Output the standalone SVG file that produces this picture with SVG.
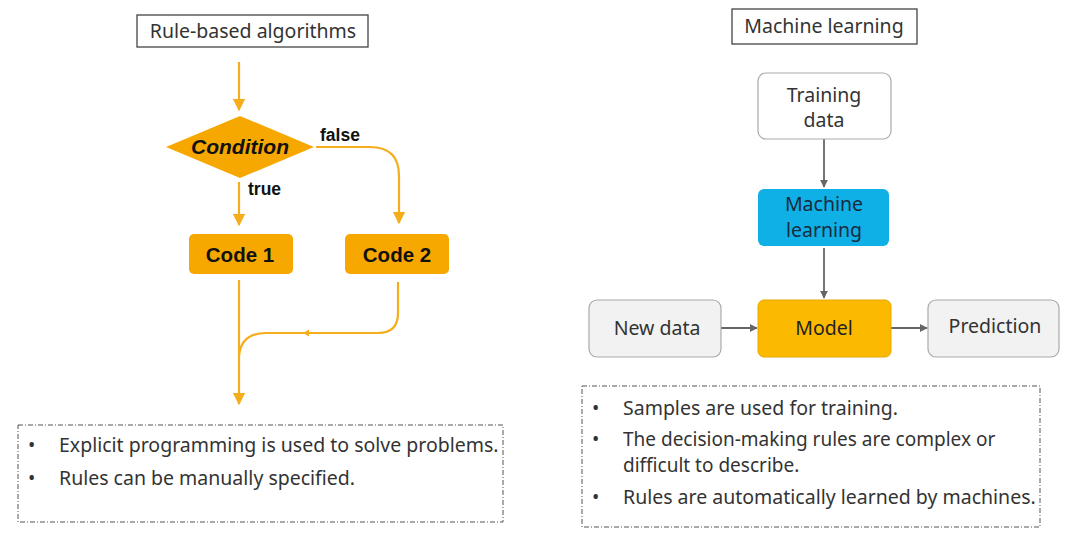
<svg xmlns="http://www.w3.org/2000/svg" width="1084" height="539" viewBox="0 0 1084 539">
<defs>
<style>
.t{font-family:"Noto Sans","Open Sans","Liberation Sans",sans-serif;fill:#333;font-size:19.5px;}
.b{font-family:"Liberation Sans",Arial,sans-serif;font-weight:bold;fill:#111;}
.title{fill:#fff;stroke:#444;stroke-width:1.3;}
.ol{fill:none;stroke:#f5ad1b;stroke-width:2.2;}
.gl{fill:none;stroke:#666;stroke-width:1.8;}
.dash{fill:none;stroke:#555;stroke-width:1;stroke-dasharray:5 2 1 2;}
.code{fill:#f7a800;}
.gbox{fill:#f2f2f2;stroke:#aaa;stroke-width:1.2;}
</style>
<marker id="oa" viewBox="0 0 10 10" refX="9" refY="5" markerWidth="5.5" markerHeight="5.5" orient="auto" markerUnits="strokeWidth">
<path d="M0,0 L10,5 L0,10 z" fill="#f5ad1b"/>
</marker>
<marker id="ga" viewBox="0 0 10 10" refX="9" refY="5" markerWidth="4.5" markerHeight="4.5" orient="auto" markerUnits="strokeWidth">
<path d="M0,0 L10,5 L0,10 z" fill="#666"/>
</marker>
</defs>
<rect width="1084" height="539" fill="#fff"/>

<g id="left-title">
<rect class="title" x="137" y="15" width="231" height="32"/>
<text class="t" x="253" y="38" text-anchor="middle">Rule-based algorithms</text>
</g>

<g id="connectors-left">
<line class="ol" x1="239" y1="62" x2="239" y2="110" marker-end="url(#oa)"/>
<path class="ol" d="M316,147 H370 Q399,147 399,176 V223" marker-end="url(#oa)"/>
<line class="ol" x1="239" y1="182" x2="239" y2="225" marker-end="url(#oa)"/>
<line class="ol" x1="239" y1="280" x2="239" y2="404" marker-end="url(#oa)"/>
<path class="ol" d="M398,282 V313 Q398,333 378,333 H266 Q241,333 239,356"/>
<path d="M309,329.5 L303,333 L309,336.5 z" fill="#f5ad1b"/>
</g>

<g id="condition">
<polygon points="166,147 240,116 314,147 240,178" class="code"/>
<text class="b" x="240" y="154" font-size="21" font-style="italic" text-anchor="middle">Condition</text>
</g>
<text class="b" x="320" y="141" font-size="17.5">false</text>
<text class="b" x="248" y="195" font-size="17.5">true</text>

<g id="code1">
<rect class="code" x="189" y="234" width="104" height="40" rx="5"/>
<text class="b" x="240" y="262" font-size="20.5" text-anchor="middle">Code 1</text>
</g>
<g id="code2">
<rect class="code" x="345" y="234" width="104" height="40" rx="5"/>
<text class="b" x="397" y="262" font-size="20.5" text-anchor="middle">Code 2</text>
</g>

<g id="left-notes">
<rect class="dash" x="18" y="425" width="485" height="97"/>
<text class="t" x="28" y="452">•</text>
<text class="t" x="59" y="452">Explicit programming is used to solve problems.</text>
<text class="t" x="28" y="485">•</text>
<text class="t" x="59" y="485">Rules can be manually specified.</text>
</g>

<g id="right-title">
<rect class="title" x="732" y="9" width="185" height="35"/>
<text class="t" x="824" y="33" text-anchor="middle">Machine learning</text>
</g>

<g id="connectors-right">
<line class="gl" x1="824" y1="139" x2="824" y2="187" marker-end="url(#ga)"/>
<line class="gl" x1="824" y1="248" x2="824" y2="298" marker-end="url(#ga)"/>
<line class="gl" x1="721" y1="328" x2="757" y2="328" marker-end="url(#ga)"/>
<line class="gl" x1="891" y1="328" x2="927" y2="328" marker-end="url(#ga)"/>
</g>

<g id="training-data">
<rect x="758" y="73" width="133" height="66" rx="8" fill="#fff" stroke="#aaa" stroke-width="1.2"/>
<text class="t" x="824" y="102" text-anchor="middle">Training</text>
<text class="t" x="824" y="127" text-anchor="middle">data</text>
</g>

<g id="ml">
<rect x="758" y="189" width="131" height="57" rx="6" fill="#0fb0e6"/>
<text class="t" x="824" y="211" text-anchor="middle" style="fill:#1a2a40">Machine</text>
<text class="t" x="824" y="237" text-anchor="middle" style="fill:#1a2a40">learning</text>
</g>

<g id="model">
<rect x="758" y="300" width="133" height="57" rx="6" fill="#fbb900" stroke="#e8a800" stroke-width="1"/>
<text class="t" x="824" y="335" text-anchor="middle" style="fill:#222">Model</text>
</g>

<g id="new-data">
<rect class="gbox" x="589" y="300" width="132" height="57" rx="8"/>
<text class="t" x="657" y="335" text-anchor="middle">New data</text>
</g>

<g id="prediction">
<rect class="gbox" x="928" y="300" width="131" height="57" rx="8"/>
<text class="t" x="995" y="333" text-anchor="middle">Prediction</text>
</g>

<g id="right-notes">
<rect class="dash" x="582" y="386" width="458" height="141"/>
<text class="t" x="592" y="415">•</text>
<text class="t" x="623" y="415">Samples are used for training.</text>
<text class="t" x="592" y="446">•</text>
<text class="t" x="623" y="446" style="font-size:19px">The decision-making rules are complex or</text>
<text class="t" x="623" y="472" style="font-size:19px">difficult to describe.</text>
<text class="t" x="592" y="504">•</text>
<text class="t" x="623" y="504">Rules are automatically learned by machines.</text>
</g>
</svg>
